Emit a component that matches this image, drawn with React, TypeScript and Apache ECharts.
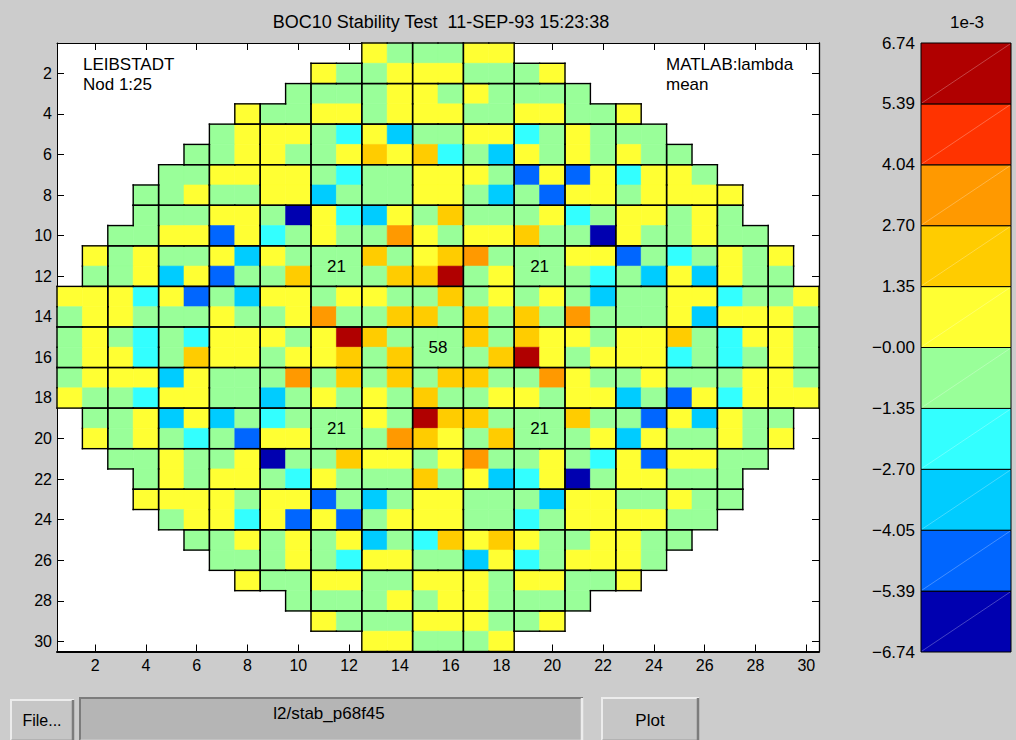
import React, { useEffect, useRef } from "react";
import * as echarts from "echarts";

const FONT = '"Liberation Sans", Arial, Helvetica, sans-serif';

const TITLE = "BOC10 Stability Test  11-SEP-93 15:23:38";
const COLORBAR_UNIT = "1e-3";
const AXIS_TICKS = [2, 4, 6, 8, 10, 12, 14, 16, 18, 20, 22, 24, 26, 28, 30];

// first core column of each row (row 1 .. 30)
const ROW_START = [13, 11, 10, 8, 7, 6, 5, 4, 4, 3, 2, 2, 1, 1, 1, 1, 1, 1, 2, 2, 3, 4, 4, 5, 6, 7, 8, 10, 11, 13];

// band code of every assembly, row by row (codes listed in LEVEL_CODES)
const ROW_CODES = [
  "ygggyy",
  "yggyyygggy",
  "ggggyygygggg",
  "yggyygyyyggyyggy",
  "gyyygdycggyydgyggg",
  "ggyyggyoyodgcygygygg",
  "ggyyyygdggyyygbybydyyg",
  "ggyggyycgggyygcgbyygyyyy",
  "gggyygaydcygogggydgyygyg",
  "ggyybydgyggOygyyoggayggygg",
  "ygyggycygggogyoOgggyybgdgygy",
  "ggycybggogggooRgygggdgcycygg",
  "yyydybgcyygyyggogygygcggyydggy",
  "gyygggyggyOggoogogogOgggycyyyg",
  "gygdgdyyygyRogggogoyygyyogdyyg",
  "gyydgoyygyyogogggoRygyyydgdgyg",
  "gyyycygggOgogogooggOyggygggyyg",
  "yggdyyggcgygygoggyygyycgbydyyy",
  "ggycycgdgggygRoogggoggbycygg",
  "ygygdgbyygggOoygogggycyggygy",
  "ggyggyaggoyygyOggygdybyygg",
  "gygyygdygggogycdyagyyggg",
  "yyyygyybgcgyygggcyyggygg",
  "gyydybybgyyyggdgyyyygg",
  "ggygygycgdoyoyggyygg",
  "gggygdyyggcydgyyyg",
  "yggyyggyyygyyggy",
  "ggggygyygggg",
  "ygggyyyggy",
  "yygggy",
];

const LEVEL_CODES = ["a", "b", "c", "d", "g", "y", "o", "O", "r", "R"];
// estimated value (x1e-3) of each band: band middle
const LEVEL_VALUES = [-6.07, -4.72, -3.37, -2.02, -0.67, 0.67, 2.02, 3.37, 4.72, 6.07];

const BAND_EDGES = [-6.74, -5.392, -4.044, -2.696, -1.348, 0, 1.348, 2.696, 4.044, 5.392, 6.74];
const BAND_LABELS = ["\u22126.74", "\u22125.39", "\u22124.05", "\u22122.70", "\u22121.35", "\u22120.00", "1.35", "2.70", "4.04", "5.39", "6.74"];
const BAND_COLORS = ["#0000b0", "#0066ff", "#00ccff", "#33ffff", "#99ff99", "#ffff33", "#ffcc00", "#ff9900", "#ff3300", "#b00000"];

const LABEL_X = [11.5, 19.5, 15.5, 11.5, 19.5];
const LABEL_Y = [11.5, 11.5, 15.5, 19.5, 19.5];
const LABEL_TEXT = ["21", "21", "58", "21", "21"];

const CORNER_LEFT = ["LEIBSTADT", "Nod 1:25"];
const CORNER_RIGHT = ["MATLAB:lambda", "mean"];

function bandIndex(v: number) {
  for (let i = 0; i < BAND_COLORS.length; i++) {
    if (v < BAND_EDGES[i + 1]) return i;
  }
  return BAND_COLORS.length - 1;
}

function txt(text: string, x: number, y: number, size: number, align = "left", vAlign = "middle") {
  return {
    type: "text",
    x,
    y,
    z: 10,
    style: {
      text,
      fill: "#000",
      fontSize: size,
      fontFamily: FONT,
      align,
      verticalAlign: vAlign,
      textAlign: align,
      textVerticalAlign: vAlign,
    },
  };
}

function button(x: number, y: number, w: number, h: number, face: string, sunken: boolean) {
  const light = "#ececec";
  const dark = "#7c7c7c";
  const tl = sunken ? dark : light;
  const br = sunken ? light : dark;
  return [
    { type: "rect", shape: { x, y, width: w, height: h }, style: { fill: face }, z: 5 },
    { type: "polyline", shape: { points: [[x + 1, y + h], [x + 1, y + 1], [x + w, y + 1]] }, style: { stroke: tl, lineWidth: 2, fill: null }, z: 6 },
    { type: "polyline", shape: { points: [[x + 1, y + h], [x + w - 1, y + h], [x + w - 1, y + 1]] }, style: { stroke: br, lineWidth: 2.5, fill: null }, z: 6 },
  ];
}

export default function App() {
  const ref = useRef<HTMLDivElement>(null);

  useEffect(() => {
    const chart = echarts.init(ref.current as HTMLDivElement, undefined, { renderer: "svg" });

    const cells: number[][] = [];
    const core = new Set<string>();
    ROW_CODES.forEach((codes, ri) => {
      const row = ri + 1;
      for (let k = 0; k < codes.length; k++) {
        const col = ROW_START[ri] + k;
        const v = LEVEL_VALUES[LEVEL_CODES.indexOf(codes[k])];
        cells.push([col, row, v]);
        core.add(col + "," + row);
      }
    });
    const inCore = (c: number, r: number) => core.has(c + "," + r);

    const labelData = LABEL_TEXT.map((_, i) => [LABEL_X[i], LABEL_Y[i], i]);
    const bandData = BAND_COLORS.map((_, i) => [0, BAND_EDGES[i], i]);

    const cellRect = (api: any) => {
      const c = api.value(0);
      const r = api.value(1);
      const p0 = api.coord([c - 0.5, r - 0.5]);
      const p1 = api.coord([c + 0.5, r + 0.5]);
      return {
        x0: Math.min(p0[0], p1[0]),
        x1: Math.max(p0[0], p1[0]),
        y0: Math.min(p0[1], p1[1]),
        y1: Math.max(p0[1], p1[1]),
        c,
        r,
      };
    };

    const lineStyle = { stroke: "#000", lineWidth: 1.4, lineCap: "square" };

    const axisBase = { type: "value", min: 0.5, max: 30.5, splitLine: { show: false } };
    const tickCfg = {
      show: true,
      inside: true,
      length: 7,
      customValues: AXIS_TICKS,
      lineStyle: { color: "#000", width: 1 },
    };

    const option: any = {
      animation: false,
      backgroundColor: "#cccccc",
      grid: [
        { left: 57, top: 43, width: 762, height: 608.5, show: true, backgroundColor: "#ffffff", borderWidth: 0 },
        { left: 921, top: 43, width: 90, height: 609, show: false },
      ],
      xAxis: [
        {
          ...axisBase,
          gridIndex: 0,
          position: "bottom",
          axisLine: { show: true, onZero: false, lineStyle: { color: "#000", width: 2 } },
          axisTick: tickCfg,
          axisLabel: { customValues: AXIS_TICKS, color: "#000", fontSize: 16, fontFamily: FONT, margin: 6 },
        },
        {
          ...axisBase,
          gridIndex: 0,
          position: "top",
          axisLine: { show: true, onZero: false, lineStyle: { color: "#000", width: 1 } },
          axisTick: tickCfg,
          axisLabel: { show: false },
        },
        { type: "value", gridIndex: 1, min: 0, max: 1, show: false },
      ],
      yAxis: [
        {
          ...axisBase,
          gridIndex: 0,
          inverse: true,
          position: "left",
          axisLine: { show: true, onZero: false, lineStyle: { color: "#000", width: 1 } },
          axisTick: tickCfg,
          axisLabel: { customValues: AXIS_TICKS, color: "#000", fontSize: 16, fontFamily: FONT, margin: 5 },
        },
        {
          ...axisBase,
          gridIndex: 0,
          inverse: true,
          position: "right",
          axisLine: { show: true, onZero: false, lineStyle: { color: "#000", width: 1.3 } },
          axisTick: tickCfg,
          axisLabel: { show: false },
        },
        {
          type: "value",
          gridIndex: 1,
          min: -6.74,
          max: 6.74,
          position: "left",
          axisLine: { show: false },
          axisTick: { show: false },
          splitLine: { show: false },
          axisLabel: {
            customValues: BAND_EDGES,
            color: "#000",
            fontSize: 17,
            fontFamily: FONT,
            margin: 6,
            formatter: (v: number) => {
              let best = 0;
              BAND_EDGES.forEach((e, i) => {
                if (Math.abs(e - v) < Math.abs(BAND_EDGES[best] - v)) best = i;
              });
              return BAND_LABELS[best];
            },
          },
        },
      ],
      series: [
        {
          type: "custom",
          name: "cells",
          xAxisIndex: 0,
          yAxisIndex: 0,
          z: 2,
          clip: false,
          data: cells,
          encode: { x: 0, y: 1 },
          renderItem: (_p: any, api: any) => {
            const b = cellRect(api);
            const color = BAND_COLORS[bandIndex(api.value(2))];
            return {
              type: "rect",
              shape: { x: b.x0, y: b.y0, width: b.x1 - b.x0, height: b.y1 - b.y0 },
              style: { fill: color, stroke: color, lineWidth: 0.6 },
            };
          },
        },
        {
          type: "custom",
          name: "borders",
          xAxisIndex: 0,
          yAxisIndex: 0,
          z: 3,
          clip: false,
          silent: true,
          data: cells,
          encode: { x: 0, y: 1 },
          renderItem: (_p: any, api: any) => {
            const b = cellRect(api);
            const c = b.c;
            const r = b.r;
            const lines: any[] = [];
            if (c % 2 === 1 || !inCore(c - 1, r))
              lines.push({ type: "line", shape: { x1: b.x0, y1: b.y0, x2: b.x0, y2: b.y1 }, style: lineStyle });
            if (c % 2 === 0 || !inCore(c + 1, r))
              lines.push({ type: "line", shape: { x1: b.x1, y1: b.y0, x2: b.x1, y2: b.y1 }, style: lineStyle });
            if (r % 2 === 1 || !inCore(c, r - 1))
              lines.push({ type: "line", shape: { x1: b.x0, y1: b.y0, x2: b.x1, y2: b.y0 }, style: lineStyle });
            if (r % 2 === 0 || !inCore(c, r + 1))
              lines.push({ type: "line", shape: { x1: b.x0, y1: b.y1, x2: b.x1, y2: b.y1 }, style: lineStyle });
            return { type: "group", children: lines };
          },
        },
        {
          type: "custom",
          name: "labels",
          xAxisIndex: 0,
          yAxisIndex: 0,
          z: 4,
          clip: false,
          silent: true,
          data: labelData,
          encode: { x: 0, y: 1 },
          renderItem: (_p: any, api: any) => {
            const p = api.coord([api.value(0), api.value(1)]);
            const t = LABEL_TEXT[api.value(2)];
            return {
              type: "text",
              x: p[0],
              y: p[1],
              style: {
                text: t,
                fill: "#000",
                fontSize: 17,
                fontFamily: FONT,
                align: "center",
                verticalAlign: "middle",
                textAlign: "center",
                textVerticalAlign: "middle",
              },
            };
          },
        },
        {
          type: "custom",
          name: "colorbar",
          xAxisIndex: 2,
          yAxisIndex: 2,
          z: 2,
          clip: false,
          silent: true,
          data: bandData,
          encode: { y: 1 },
          renderItem: (_p: any, api: any) => {
            const i = api.value(2);
            const pBot = api.coord([0, BAND_EDGES[i]]);
            const pTop = api.coord([1, BAND_EDGES[i + 1]]);
            const x0 = pBot[0];
            const x1 = pTop[0];
            const y0 = pTop[1];
            const y1 = pBot[1];
            return {
              type: "group",
              children: [
                {
                  type: "rect",
                  shape: { x: x0, y: y0, width: x1 - x0, height: y1 - y0 },
                  style: { fill: BAND_COLORS[i], stroke: "#000", lineWidth: 1 },
                },
                {
                  type: "line",
                  shape: { x1: x0 + 1, y1: y1 - 1, x2: x1 - 1, y2: y0 + 1 },
                  style: { stroke: "rgba(255,255,255,0.45)", lineWidth: 0.6 },
                },
              ],
            };
          },
        },
      ],
      graphic: [
        txt(TITLE, 441, 22, 18, "center"),
        txt(COLORBAR_UNIT, 967, 22, 17, "center"),
        txt(CORNER_LEFT[0], 83, 64, 17),
        txt(CORNER_LEFT[1], 83, 84, 17),
        txt(CORNER_RIGHT[0], 666, 64, 17),
        txt(CORNER_RIGHT[1], 666, 84, 17),
        ...button(10, 699, 64, 42, "#c6c6c6", false),
        ...button(79, 697, 504, 44, "#b5b5b5", true),
        ...button(601, 697, 98, 44, "#c6c6c6", false),
        txt("File...", 42, 720, 16, "center"),
        txt("l2/stab_p68f45", 329, 713, 17, "center"),
        txt("Plot", 650, 720, 17, "center"),
      ],
    };

    chart.setOption(option);
    return () => chart.dispose();
  }, []);

  return <div ref={ref} style={{ position: "fixed", left: 0, top: 0, width: 1016, height: 740 }} />;
}
